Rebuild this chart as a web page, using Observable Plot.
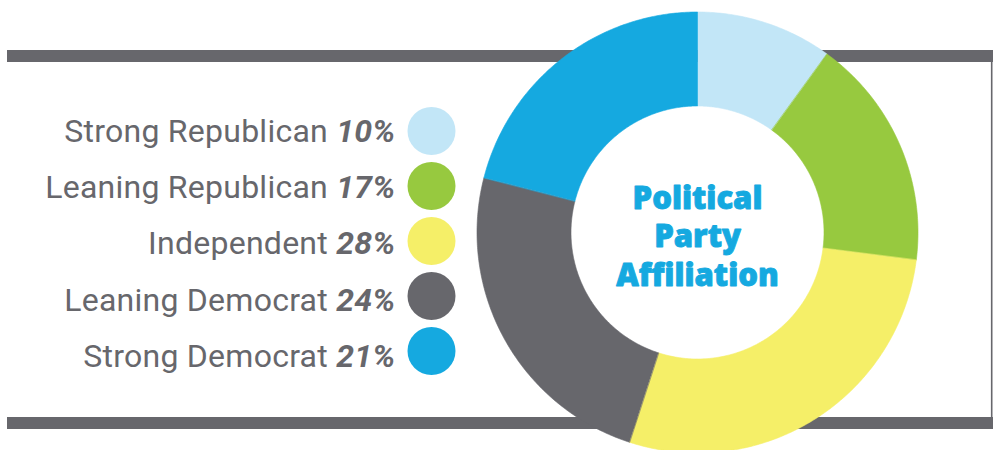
<!DOCTYPE html>
<html>
<head>
<meta charset="utf-8">
<script src="https://cdn.jsdelivr.net/npm/d3@7"></script>
<script src="https://cdn.jsdelivr.net/npm/@observablehq/plot@0.6"></script>
<style>
  html, body { margin: 0; padding: 0; background: #ffffff; }
  #chart { width: 995px; height: 450px; }
</style>
</head>
<body>
<div id="chart"></div>
<script>
// ---- data ----
const parties = ["Strong Republican", "Leaning Republican", "Independent", "Leaning Democrat", "Strong Democrat"];
const shares = [10, 17, 28, 24, 21];
const partyColors = ["#c2e6f7", "#97c93f", "#f5ef68", "#67676c", "#15a9e0"];
const titleLines = ["Political", "Party", "Affiliation"];

// ---- layout ----
const W = 995, H = 450;
const donut = {cx: 697, cy: 232, inner: 126.5, outer: 220.5};
const legend = {textRight: 395, dotX: 431, dotR: 24, dotTop: 130.5, dotGap: 55, textTop: 130.8, textGap: 56.4, fontSize: 32};
const frame = {left: 7, right: 993, top: 50, bottom: 429, thick: 12, side: 1.6};
const gray = "#67676c";
const blue = "#15a9e0";

const rows = parties.map((p, i) => ({party: p, share: shares[i], i}));

// donut slice polygons from pie angles
const pie = d3.pie().sort(null).value(d => d.share).startAngle(0).endAngle(2 * Math.PI);
const arcs = pie(rows);
const slicePts = [];
arcs.forEach(a => {
  const n = Math.max(8, Math.ceil((a.endAngle - a.startAngle) / 0.01));
  const pts = [];
  for (let k = 0; k <= n; k++) {
    const t = a.startAngle + (a.endAngle - a.startAngle) * k / n;
    pts.push([t, donut.outer]);
  }
  for (let k = n; k >= 0; k--) {
    const t = a.startAngle + (a.endAngle - a.startAngle) * k / n;
    pts.push([t, donut.inner]);
  }
  pts.forEach(([t, r]) => slicePts.push({
    party: a.data.party,
    x: donut.cx + r * Math.sin(t),
    y: donut.cy - r * Math.cos(t)
  }));
});

const frameRects = [
  {x1: frame.left, x2: frame.right, y1: frame.top, y2: frame.top + frame.thick},
  {x1: frame.left, x2: frame.right, y1: frame.bottom - frame.thick, y2: frame.bottom},
  {x1: frame.right - frame.side - 0.5, x2: frame.right - 0.5, y1: frame.top, y2: frame.bottom}
];

const svg = Plot.plot({
  width: W,
  height: H,
  margin: 0,
  style: {background: "#ffffff", overflow: "visible"},
  x: {domain: [0, W], range: [0, W], axis: null},
  y: {domain: [0, H], range: [0, H], axis: null},
  color: {domain: parties, range: partyColors},
  marks: [
    Plot.rect(frameRects, {x1: "x1", x2: "x2", y1: "y1", y2: "y2", fill: gray}),
    Plot.line(slicePts, {x: "x", y: "y", z: "party", fill: "party", stroke: "party", strokeWidth: 0.6, curve: "linear-closed"}),
    Plot.dot(rows, {x: () => legend.dotX, y: d => legend.dotTop + d.i * legend.dotGap, r: legend.dotR, fill: "party", stroke: null}),
    Plot.text(rows, {
      x: () => legend.textRight,
      y: d => legend.textTop + d.i * legend.textGap,
      text: d => d.party,
      textAnchor: "end",
      fontSize: legend.fontSize,
      fontFamily: "Roboto, 'Noto Sans', sans-serif",
      fill: gray
    }),
    Plot.text([titleLines.join("\n")], {
      x: () => donut.cx,
      y: () => donut.cy,
      text: d => d,
      textAnchor: "middle",
      lineHeight: 1.24,
      fontSize: 31,
      fontWeight: 800,
      fontFamily: "'Open Sans', Roboto, sans-serif",
      fill: blue,
      stroke: blue,
      strokeWidth: 0.9,
      dy: 2.5
    })
  ]
});

// mixed styling: name regular + share bold italic
d3.select(svg).selectAll("text").each(function() {
  const el = d3.select(this);
  const idx = parties.indexOf(this.textContent);
  if (idx < 0) return;
  const d = rows[idx];
  el.text(null).attr("letter-spacing", "0.25px");
  el.append("tspan").text(d.party + " ");
  el.append("tspan").attr("font-weight", "bold").attr("font-style", "italic").text(d.share + "%");
});

document.getElementById("chart").appendChild(svg);
</script>
</body>
</html>
